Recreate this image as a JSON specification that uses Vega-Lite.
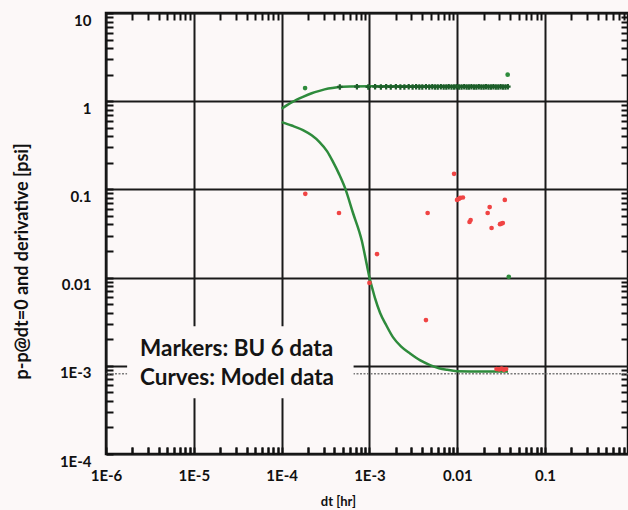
{
  "$schema": "https://vega.github.io/schema/vega-lite/v6.json",
  "width": 522,
  "height": 441,
  "autosize": {"type": "none"},
  "padding": {"left": 106, "top": 13, "right": 0, "bottom": 56},
  "background": "#fcf8f8",
  "config": {
    "view": {"stroke": "#111111", "strokeWidth": 2.5},
    "font": "Lato",
    "axis": {
      "domain": false,
      "ticks": true,
      "tickColor": "#111111",
      "tickWidth": 2,
      "gridColor": "#1a1a1a",
      "gridWidth": 2,
      "labelFont": "Lato",
      "labelFontWeight": "bold",
      "labelFontSize": 15,
      "labelColor": "#111111",
      "labelOverlap": false,
      "labelBound": false,
      "labelFlush": false,
      "titleFont": "Lato",
      "titleFontWeight": "bold",
      "titleColor": "#111111"
    }
  },
  "datasets": {
    "modelPressure": [
      {"dt": 0.0001, "p": 0.82},
      {"dt": 0.00013, "p": 0.97},
      {"dt": 0.000175, "p": 1.12},
      {"dt": 0.00022, "p": 1.23},
      {"dt": 0.00027, "p": 1.31},
      {"dt": 0.00034, "p": 1.39},
      {"dt": 0.00043, "p": 1.44},
      {"dt": 0.0006, "p": 1.47},
      {"dt": 0.001, "p": 1.48},
      {"dt": 0.01, "p": 1.48},
      {"dt": 0.0378, "p": 1.48}
    ],
    "modelDerivative": [
      {"dt": 0.0001, "d": 0.58},
      {"dt": 0.00013, "d": 0.53},
      {"dt": 0.000175, "d": 0.47},
      {"dt": 0.00022, "d": 0.41},
      {"dt": 0.00027, "d": 0.344},
      {"dt": 0.00033, "d": 0.27},
      {"dt": 0.000385, "d": 0.205},
      {"dt": 0.00045, "d": 0.15},
      {"dt": 0.000527, "d": 0.104},
      {"dt": 0.00065, "d": 0.054},
      {"dt": 0.00082, "d": 0.026},
      {"dt": 0.00094, "d": 0.0135},
      {"dt": 0.001, "d": 0.01},
      {"dt": 0.00108, "d": 0.0075},
      {"dt": 0.00116, "d": 0.0058},
      {"dt": 0.00132, "d": 0.004},
      {"dt": 0.00155, "d": 0.0029},
      {"dt": 0.00186, "d": 0.0021},
      {"dt": 0.0023, "d": 0.00165},
      {"dt": 0.0029, "d": 0.00138},
      {"dt": 0.0038, "d": 0.00115},
      {"dt": 0.0049, "d": 0.00102},
      {"dt": 0.0062, "d": 0.00094},
      {"dt": 0.0077, "d": 0.0009},
      {"dt": 0.0099, "d": 0.00087},
      {"dt": 0.02, "d": 0.00086},
      {"dt": 0.0378, "d": 0.00086}
    ],
    "bu6Pressure": [
      {"dt": 0.00046, "p": 1.45},
      {"dt": 0.00072, "p": 1.46},
      {"dt": 0.00097, "p": 1.45},
      {"dt": 0.00116, "p": 1.46},
      {"dt": 0.00135, "p": 1.45},
      {"dt": 0.00155, "p": 1.46},
      {"dt": 0.00175, "p": 1.45},
      {"dt": 0.002, "p": 1.46},
      {"dt": 0.00225, "p": 1.45},
      {"dt": 0.0025, "p": 1.45},
      {"dt": 0.0028, "p": 1.46},
      {"dt": 0.0031, "p": 1.45},
      {"dt": 0.0034, "p": 1.46},
      {"dt": 0.0037, "p": 1.45},
      {"dt": 0.004, "p": 1.45},
      {"dt": 0.0044, "p": 1.46},
      {"dt": 0.0048, "p": 1.45},
      {"dt": 0.0052, "p": 1.46},
      {"dt": 0.0056, "p": 1.45},
      {"dt": 0.006, "p": 1.45},
      {"dt": 0.0065, "p": 1.46},
      {"dt": 0.007, "p": 1.45},
      {"dt": 0.0075, "p": 1.45},
      {"dt": 0.008, "p": 1.46},
      {"dt": 0.0086, "p": 1.45},
      {"dt": 0.0092, "p": 1.45},
      {"dt": 0.0098, "p": 1.46},
      {"dt": 0.0105, "p": 1.45},
      {"dt": 0.0112, "p": 1.45},
      {"dt": 0.012, "p": 1.46},
      {"dt": 0.0128, "p": 1.45},
      {"dt": 0.0136, "p": 1.45},
      {"dt": 0.0145, "p": 1.46},
      {"dt": 0.0155, "p": 1.45},
      {"dt": 0.0165, "p": 1.45},
      {"dt": 0.0176, "p": 1.46},
      {"dt": 0.0188, "p": 1.45},
      {"dt": 0.02, "p": 1.45},
      {"dt": 0.0213, "p": 1.46},
      {"dt": 0.0227, "p": 1.45},
      {"dt": 0.0242, "p": 1.45},
      {"dt": 0.0258, "p": 1.46},
      {"dt": 0.0275, "p": 1.45},
      {"dt": 0.0293, "p": 1.45},
      {"dt": 0.0312, "p": 1.46},
      {"dt": 0.0332, "p": 1.45},
      {"dt": 0.0354, "p": 1.45},
      {"dt": 0.0377, "p": 1.46}
    ],
    "bu6Outliers": [
      {"dt": 0.000185, "v": 1.41},
      {"dt": 0.0375, "v": 2.0},
      {"dt": 0.0386, "v": 0.0102}
    ],
    "bu6Derivative": [
      {"dt": 0.000186, "d": 0.089},
      {"dt": 0.00045, "d": 0.054},
      {"dt": 0.001, "d": 0.0087},
      {"dt": 0.00122, "d": 0.0185},
      {"dt": 0.0044, "d": 0.0033},
      {"dt": 0.0046, "d": 0.054},
      {"dt": 0.0092, "d": 0.15},
      {"dt": 0.00995, "d": 0.076},
      {"dt": 0.0104, "d": 0.078},
      {"dt": 0.0108, "d": 0.08},
      {"dt": 0.0116, "d": 0.081},
      {"dt": 0.0138, "d": 0.0427},
      {"dt": 0.0142, "d": 0.045},
      {"dt": 0.0222, "d": 0.054},
      {"dt": 0.0234, "d": 0.063},
      {"dt": 0.0246, "d": 0.0365},
      {"dt": 0.0307, "d": 0.0403},
      {"dt": 0.0318, "d": 0.041},
      {"dt": 0.033, "d": 0.0415},
      {"dt": 0.0348, "d": 0.076},
      {"dt": 0.028, "d": 0.00092},
      {"dt": 0.03, "d": 0.00091},
      {"dt": 0.032, "d": 0.00093},
      {"dt": 0.034, "d": 0.0009},
      {"dt": 0.036, "d": 0.00092}
    ],
    "noteBox": [
      {"x1": 0.00000174, "x2": 0.00066, "y1": 0.00043, "y2": 0.0028}
    ],
    "notes": [
      {"dt": 0.00000244, "v": 0.00129, "label": "Markers: BU 6 data"},
      {"dt": 0.00000244, "v": 0.000605, "label": "Curves: Model data"}
    ],
    "baseline": [
      {"v": 0.00081}
    ]
  },
  "layer": [
    {
      "data": {"name": "baseline"},
      "mark": {"type": "rule", "color": "#7a7a7a", "strokeWidth": 1.5, "strokeDash": [2, 1.5]},
      "encoding": {
        "y": {"field": "v", "type": "quantitative", "scale": {"type": "log", "domain": [0.0001, 10], "nice": false}, "axis": null}
      }
    },
    {
      "data": {"name": "noteBox"},
      "mark": {"type": "rect", "fill": "#fcf8f8"},
      "encoding": {
        "x": {"field": "x1", "type": "quantitative", "scale": {"type": "log", "domain": [0.000001, 0.88], "nice": false}, "axis": null},
        "x2": {"field": "x2"},
        "y": {"field": "y1", "type": "quantitative", "scale": {"type": "log", "domain": [0.0001, 10], "nice": false}, "axis": null},
        "y2": {"field": "y2"}
      }
    },
    {
      "data": {"name": "notes"},
      "mark": {"type": "text", "align": "left", "baseline": "alphabetic", "font": "Lato", "fontSize": 22.5, "fontWeight": "bold", "color": "#141414"},
      "encoding": {
        "x": {"field": "dt", "type": "quantitative", "scale": {"type": "log", "domain": [0.000001, 0.88], "nice": false}, "axis": null},
        "y": {"field": "v", "type": "quantitative", "scale": {"type": "log", "domain": [0.0001, 10], "nice": false}, "axis": null},
        "text": {"field": "label"}
      }
    },
    {
      "data": {"name": "modelDerivative"},
      "mark": {"type": "line", "color": "#2e8b3c", "strokeWidth": 2.5, "interpolate": "monotone"},
      "encoding": {
        "x": {
          "field": "dt", "type": "quantitative",
          "scale": {"type": "log", "domain": [0.000001, 0.88], "nice": false},
          "axis": {
            "orient": "top", "grid": false, "labels": false, "title": null,
            "tickSize": 7, "offset": -7,
            "values": [0.000002, 0.000003, 0.000004, 0.000005, 0.000006, 0.000007, 0.000008, 0.000009, 0.00002, 0.00003, 0.00004, 0.00005, 0.00006, 0.00007, 0.00008, 0.00009, 0.0002, 0.0003, 0.0004, 0.0005, 0.0006, 0.0007, 0.0008, 0.0009, 0.002, 0.003, 0.004, 0.005, 0.006, 0.007, 0.008, 0.009, 0.02, 0.03, 0.04, 0.05, 0.06, 0.07, 0.08, 0.09, 0.2, 0.3, 0.4, 0.5, 0.6, 0.7, 0.8]
          }
        },
        "y": {
          "field": "d", "type": "quantitative",
          "scale": {"type": "log", "domain": [0.0001, 10], "nice": false},
          "axis": {
            "orient": "left", "grid": false, "labels": false, "title": null,
            "tickSize": 7, "offset": -522,
            "values": [0.0002, 0.0003, 0.0004, 0.0005, 0.0006, 0.0007, 0.0008, 0.0009, 0.002, 0.003, 0.004, 0.005, 0.006, 0.007, 0.008, 0.009, 0.02, 0.03, 0.04, 0.05, 0.06, 0.07, 0.08, 0.09, 0.2, 0.3, 0.4, 0.5, 0.6, 0.7, 0.8, 0.9, 2, 3, 4, 5, 6, 7, 8, 9]
          }
        }
      }
    },
    {
      "data": {"name": "modelPressure"},
      "mark": {"type": "line", "color": "#2e8b3c", "strokeWidth": 2.5, "interpolate": "monotone"},
      "encoding": {
        "x": {
          "field": "dt", "type": "quantitative",
          "scale": {"type": "log", "domain": [0.000001, 0.88], "nice": false},
          "axis": {
            "orient": "bottom", "grid": true,
            "tickSize": 14, "offset": -14, "tickDash": [0, 7, 7, 100],
            "gridOpacity": {"condition": {"test": "abs(log(datum.value)/LN10 - round(log(datum.value)/LN10)) < 0.01", "value": 1}, "value": 0},
            "values": [0.000001, 0.000002, 0.000003, 0.000004, 0.000005, 0.000006, 0.000007, 0.000008, 0.000009, 0.00001, 0.00002, 0.00003, 0.00004, 0.00005, 0.00006, 0.00007, 0.00008, 0.00009, 0.0001, 0.0002, 0.0003, 0.0004, 0.0005, 0.0006, 0.0007, 0.0008, 0.0009, 0.001, 0.002, 0.003, 0.004, 0.005, 0.006, 0.007, 0.008, 0.009, 0.01, 0.02, 0.03, 0.04, 0.05, 0.06, 0.07, 0.08, 0.09, 0.1, 0.2, 0.3, 0.4, 0.5, 0.6, 0.7, 0.8],
            "labelExpr": "abs(log(datum.value)/LN10 - round(log(datum.value)/LN10)) < 0.01 ? (datum.value > 0.05 ? '0.1' : datum.value > 0.005 ? '0.01' : '1E' + round(log(datum.value)/LN10)) : ''",
            "labelPadding": 14,
            "title": "dt [hr]",
            "titleFontSize": 13,
            "titleX": 232,
            "titleY": 61,
            "titleBaseline": "middle"
          }
        },
        "y": {
          "field": "p", "type": "quantitative",
          "scale": {"type": "log", "domain": [0.0001, 10], "nice": false},
          "axis": {
            "orient": "left", "grid": true,
            "tickSize": 7, "offset": -7,
            "gridOpacity": {"condition": {"test": "abs(log(datum.value)/LN10 - round(log(datum.value)/LN10)) < 0.01", "value": 1}, "value": 0},
            "values": [0.0001, 0.0002, 0.0003, 0.0004, 0.0005, 0.0006, 0.0007, 0.0008, 0.0009, 0.001, 0.002, 0.003, 0.004, 0.005, 0.006, 0.007, 0.008, 0.009, 0.01, 0.02, 0.03, 0.04, 0.05, 0.06, 0.07, 0.08, 0.09, 0.1, 0.2, 0.3, 0.4, 0.5, 0.6, 0.7, 0.8, 0.9, 1, 2, 3, 4, 5, 6, 7, 8, 9, 10],
            "labelExpr": "abs(log(datum.value)/LN10 - round(log(datum.value)/LN10)) < 0.01 ? (datum.value > 5 ? '10' : datum.value > 0.5 ? '1' : datum.value > 0.05 ? '0.1' : datum.value > 0.005 ? '0.01' : '1E' + round(log(datum.value)/LN10)) : ''",
            "labelPadding": 15,
            "labelOffset": 7,
            "title": "p-p@dt=0 and derivative [psi]",
            "titleFontSize": 18,
            "titleX": -91,
            "titleY": 248,
            "titleAngle": -90,
            "titleAlign": "center",
            "titleBaseline": "middle"
          }
        }
      }
    },
    {
      "data": {"name": "bu6Pressure"},
      "mark": {"type": "point", "shape": "cross", "filled": true, "color": "#1d5e2a", "size": 30, "opacity": 1},
      "encoding": {
        "x": {"field": "dt", "type": "quantitative", "scale": {"type": "log", "domain": [0.000001, 0.88], "nice": false}, "axis": null},
        "y": {"field": "p", "type": "quantitative", "scale": {"type": "log", "domain": [0.0001, 10], "nice": false}, "axis": null}
      }
    },
    {
      "data": {"name": "bu6Outliers"},
      "mark": {"type": "point", "shape": "circle", "filled": true, "color": "#2e8b3c", "size": 22, "opacity": 1},
      "encoding": {
        "x": {
          "field": "dt", "type": "quantitative",
          "scale": {"type": "log", "domain": [0.000001, 0.88], "nice": false},
          "axis": {
            "orient": "top", "grid": false, "labels": false, "title": null,
            "tickSize": 7, "offset": -441,
            "values": [0.000002, 0.000003, 0.000004, 0.000005, 0.000006, 0.000007, 0.000008, 0.000009, 0.00002, 0.00003, 0.00004, 0.00005, 0.00006, 0.00007, 0.00008, 0.00009, 0.0002, 0.0003, 0.0004, 0.0005, 0.0006, 0.0007, 0.0008, 0.0009, 0.002, 0.003, 0.004, 0.005, 0.006, 0.007, 0.008, 0.009, 0.02, 0.03, 0.04, 0.05, 0.06, 0.07, 0.08, 0.09, 0.2, 0.3, 0.4, 0.5, 0.6, 0.7, 0.8]
          }
        },
        "y": {"field": "v", "type": "quantitative", "scale": {"type": "log", "domain": [0.0001, 10], "nice": false}, "axis": null}
      }
    },
    {
      "data": {"name": "bu6Derivative"},
      "mark": {"type": "point", "shape": "circle", "filled": true, "color": "#f04444", "size": 22, "opacity": 1},
      "encoding": {
        "x": {"field": "dt", "type": "quantitative", "scale": {"type": "log", "domain": [0.000001, 0.88], "nice": false}, "axis": null},
        "y": {"field": "d", "type": "quantitative", "scale": {"type": "log", "domain": [0.0001, 10], "nice": false}, "axis": null}
      }
    }
  ],
  "resolve": {"axis": {"x": "independent", "y": "independent"}}
}
